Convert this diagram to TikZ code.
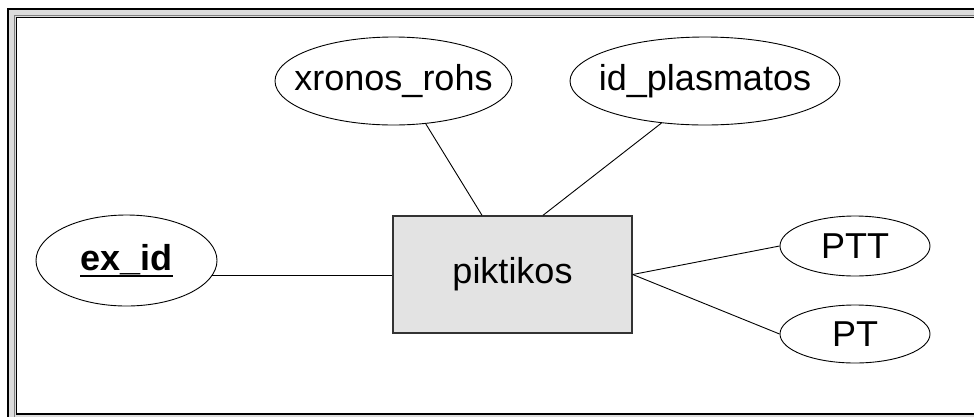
\documentclass[tikz,border=0pt]{standalone}
\usepackage{fontspec}
\setmainfont{Liberation Sans}
\usetikzlibrary{shapes.geometric}
\definecolor{bandgray}{HTML}{DCDCDC}
\definecolor{boxgray}{HTML}{E3E3E3}
\definecolor{edgegray}{HTML}{333333}
% key attribute: bold with a rule under it
\newcommand\keyattr[1]{\setbox0\hbox{\bfseries #1}\rlap{\rule[-6pt]{\wd0}{2pt}}\box0}
\begin{document}
\begin{tikzpicture}[x=1pt,y=-1pt,
  attr/.style={ellipse, draw, line width=0.9pt, inner sep=0pt,
    font=\fontsize{36}{40}\selectfont},
  entity/.style={rectangle, draw=edgegray, fill=boxgray, line width=1.4pt,
    inner sep=0pt, font=\fontsize{36}{40}\selectfont},
  link/.style={line width=0.9pt}]
\useasboundingbox (0,0) rectangle (974,416);
% window frame
\begin{scope}
  \clip (0,0) rectangle (974,416);
  \filldraw[fill=bandgray, draw=black, line width=1.6pt] (8,9) rectangle (990,430);
  \draw[gray, line width=0.8pt] (14.5,15.5) rectangle (990,425);
  \filldraw[fill=white, draw=black, line width=1.2pt] (16.5,17.5) rectangle (990,414);
\end{scope}
% entity
\node[entity, minimum width=239pt, minimum height=117pt] (box) at (512.5,274.5) {piktikos};
% attributes
\node[attr, minimum width=237pt, minimum height=88pt] (xr) at (393.5,81) {\makebox[0pt]{xronos\_rohs}};
\node[attr, minimum width=270pt, minimum height=88pt] (ip) at (705,81) {\makebox[0pt]{id\_plasmatos}};
\node[attr, minimum width=181pt, minimum height=91pt] (ex) at (126.5,260.5) {\makebox[0pt]{\keyattr{ex\_id}}};
\node[attr, minimum width=150pt, minimum height=60pt] (ptt) at (855,246) {\makebox[0pt]{PTT}};
\node[attr, minimum width=150pt, minimum height=58pt] (pt) at (855,334) {\makebox[0pt]{PT}};
% connectors
\draw[link] (xr.307) -- ([xshift=-30.5pt]box.north);
\draw[link] (ip.224) -- ([xshift=30.5pt]box.north);
\draw[link] (ex.350) -- (ex.350 -| box.west);
\draw[link] (box.east) -- (ptt.west);
\draw[link] (box.east) -- (pt.west);
\end{tikzpicture}
\end{document}
